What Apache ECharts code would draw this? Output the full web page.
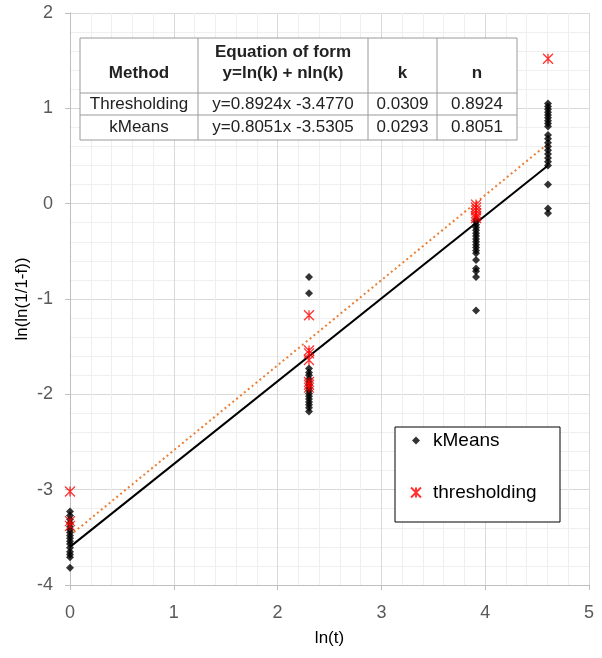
<!DOCTYPE html>
<html><head><meta charset="utf-8">
<script src="https://cdn.jsdelivr.net/npm/echarts@6/dist/echarts.min.js"></script>
<style>html,body{margin:0;padding:0;background:#fff}#c{width:602px;height:658px}</style>
</head><body><div id="c"></div>
<script>
// x positions: ln(1), ln(10), ln(50), ln(100)
const xLevels = [0, 2.3026, 3.912, 4.6052];
const kMeansY = [
  [-3.23, -3.27, -3.31, -3.35, -3.39, -3.42, -3.45, -3.48, -3.51, -3.54, -3.57, -3.61, -3.65, -3.68, -3.71, -3.82],
  [-0.77, -0.94, -1.73, -1.77, -1.80, -1.84, -1.87, -1.90, -1.93, -1.96, -1.99, -2.02, -2.05, -2.08, -2.11, -2.14, -2.18],
  [-0.16, -0.19, -0.22, -0.25, -0.28, -0.31, -0.34, -0.37, -0.40, -0.43, -0.46, -0.49, -0.52, -0.59, -0.68, -0.71, -0.77, -1.12],
  [1.05, 1.02, 0.99, 0.96, 0.93, 0.90, 0.87, 0.84, 0.81, 0.72, 0.68, 0.64, 0.60, 0.56, 0.52, 0.48, 0.44, 0.40, 0.20, -0.05, -0.10]
];
const threshY = [
  [-3.02, -3.33, -3.38],
  [-1.17, -1.54, -1.57, -1.64, -1.87, -1.90, -1.93],
  [-0.01, -0.04, -0.07, -0.10, -0.13, -0.15],
  [1.52]
];
// trend line endpoints (x = first and last level)
const trendX = [0, 4.6052];
const kMeansTrendY = [-3.60, 0.40];
const threshTrendY = [-3.48, 0.63];

const tableHeader = ['Method', 'Equation of form\ny=ln(k) + nln(k)', 'k', 'n'];
const tableRows = [
  ['Thresholding', 'y=0.8924x -3.4770', '0.0309', '0.8924'],
  ['kMeans', 'y=0.8051x -3.5305', '0.0293', '0.8051']
];
const xTicks = [0, 1, 2, 3, 4, 5];
const yTicks = [-4, -3, -2, -1, 0, 1, 2];

function pairs(levels, groups) {
  const out = [];
  groups.forEach((g, i) => g.forEach(v => out.push([levels[i], v])));
  return out;
}

const starPath = 'path://M0,0L10,10M10,0L0,10M5,0L5,10';
const FONT = '"Liberation Sans", Arial, sans-serif';

// table graphic
const tX = [80, 198, 368, 437, 517];
const tY = [38, 93, 115, 140];
const tableEls = [];
tableEls.push({type:'rect', shape:{x:tX[0], y:tY[0], width:tX[4]-tX[0], height:tY[3]-tY[0]},
  style:{fill:'#fff', stroke:'#9a9a9a', lineWidth:1}, z:100});
for (let i = 1; i < 4; i++) tableEls.push({type:'line', shape:{x1:tX[i], y1:tY[0], x2:tX[i], y2:tY[3]}, style:{stroke:'#9a9a9a', lineWidth:1}, z:101});
for (let j = 1; j < 3; j++) tableEls.push({type:'line', shape:{x1:tX[0], y1:tY[j], x2:tX[4], y2:tY[j]}, style:{stroke:'#9a9a9a', lineWidth:1}, z:101});
tableHeader.forEach((h, i) => {
  const cx = (tX[i] + tX[i+1]) / 2;
  const lines = h.split('\n');
  lines.forEach((ln, k) => {
    const cy = 73 - (lines.length - 1 - k) * 21;
    tableEls.push({type:'text', x:cx, y:cy, z:102,
      style:{text:ln, fill:'#222', font:'bold 17px ' + FONT, textAlign:'center', textVerticalAlign:'middle'}});
  });
});
tableRows.forEach((r, j) => {
  const cy = [104, 127][j];
  r.forEach((t, i) => {
    const cx = (tX[i] + tX[i+1]) / 2;
    tableEls.push({type:'text', x:cx, y:cy, z:102,
      style:{text:t, fill:'#222', font:'17px ' + FONT, textAlign:'center', textVerticalAlign:'middle'}});
  });
});
// legend box
tableEls.push({type:'rect', shape:{x:395, y:427, width:165, height:95}, style:{fill:'#fff', stroke:'#000', lineWidth:1}, z:5});

const chart = echarts.init(document.getElementById('c'), null, {renderer:'canvas'});
chart.setOption({
  backgroundColor:'#fff',
  animation:false,
  textStyle:{fontFamily:FONT},
  grid:{left:70, right:13, top:13, bottom:73, containLabel:false},
  xAxis:{
    type:'value', min:xTicks[0], max:xTicks[xTicks.length-1], interval:1,
    name:'ln(t)', nameLocation:'middle', nameGap:45, nameMoveOverlap:false,
    nameTextStyle:{fontSize:17, color:'#000', fontFamily:FONT},
    axisLine:{show:true, onZero:false, lineStyle:{color:'#bfbfbf', width:1}},
    axisTick:{show:true, length:5, lineStyle:{color:'#bfbfbf'}},
    axisLabel:{fontSize:18, color:'#595959', margin:19, fontFamily:FONT},
    splitLine:{show:true, lineStyle:{color:'#d9d9d9', width:1}},
    minorTick:{show:false, splitNumber:5},
    minorSplitLine:{show:true, lineStyle:{color:'#efefef', width:1}}
  },
  yAxis:{
    type:'value', min:yTicks[0], max:yTicks[yTicks.length-1], interval:1,
    name:'ln(ln(1/1-f))', nameLocation:'middle', nameGap:39, nameRotate:90, nameMoveOverlap:false,
    nameTextStyle:{fontSize:17, color:'#000', fontFamily:FONT},
    axisLine:{show:true, onZero:false, lineStyle:{color:'#bfbfbf', width:1}},
    axisTick:{show:true, length:5, lineStyle:{color:'#bfbfbf'}},
    axisLabel:{fontSize:18, color:'#595959', margin:17, fontFamily:FONT},
    splitLine:{show:true, lineStyle:{color:'#d9d9d9', width:1}},
    minorTick:{show:false, splitNumber:5},
    minorSplitLine:{show:true, lineStyle:{color:'#efefef', width:1}}
  },
  legend:[
    {data:['kMeans'], left:407, top:426, orient:'vertical', itemWidth:8, itemHeight:8,
     textStyle:{fontSize:19, color:'#000', fontFamily:FONT, padding:[0,0,0,8]}, z:10},
    {data:['thresholding'], left:405, top:478, orient:'vertical', itemWidth:10, itemHeight:10,
     textStyle:{fontSize:19, color:'#000', fontFamily:FONT, padding:[0,0,0,7]}, z:10}
  ],
  graphic:tableEls,
  series:[
    {name:'kMeans trend', type:'line', data:trendX.map((x,i)=>[x, kMeansTrendY[i]]), showSymbol:false, symbol:'none',
     lineStyle:{color:'#000', width:2}, z:2, silent:true},
    {name:'thresholding trend', type:'line', data:trendX.map((x,i)=>[x, threshTrendY[i]]), showSymbol:false, symbol:'none',
     lineStyle:{color:'#ed7d31', width:2, type:[2,3]}, z:2, silent:true},
    {name:'kMeans', type:'scatter', data:pairs(xLevels, kMeansY), symbol:'diamond', symbolSize:8,
     itemStyle:{color:'#000'}, z:3},
    {name:'thresholding', type:'scatter', data:pairs(xLevels, threshY), symbol:starPath, symbolSize:10,
     itemStyle:{color:'rgba(0,0,0,0)', borderColor:'#ff0000', borderWidth:1.3}, z:4}
  ]
});
</script>
</body></html>
